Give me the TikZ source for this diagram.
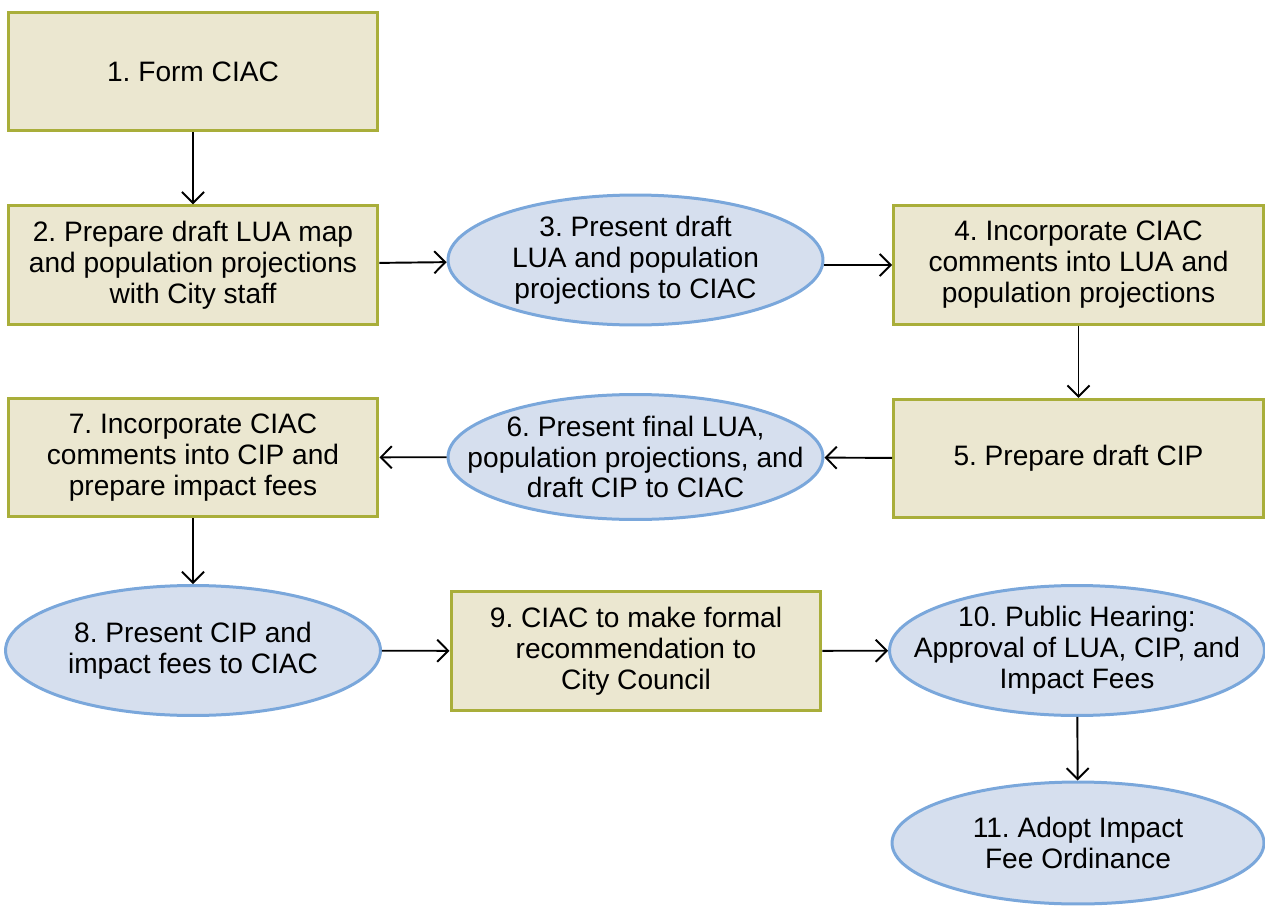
\documentclass[tikz,border=0pt]{standalone}
\usepackage{fontspec}
\setmainfont{Liberation Sans}
\usetikzlibrary{shapes.geometric,arrows.meta}
\definecolor{boxfill}{HTML}{EBE7D0}
\definecolor{boxline}{HTML}{A9AE3A}
\definecolor{ovalfill}{HTML}{D6DFEE}
\definecolor{ovalline}{HTML}{7AA7DB}
\frenchspacing
\begin{document}
\begin{tikzpicture}[x=0.02cm,y=-0.02cm,
  stepbox/.style={draw=boxline,fill=boxfill,line width=0.06cm,minimum width=7.4cm,minimum height=2.37cm,align=center,font=\fontsize{16}{17.6}\selectfont},
  meeting/.style={ellipse,draw=ovalline,fill=ovalfill,line width=0.06cm,minimum width=7.5cm,minimum height=2.6cm,inner xsep=-3cm,inner ysep=-1cm,align=center,font=\fontsize{16}{17.6}\selectfont},
  flow/.style={-{Straight Barb[length=2.2mm,width=4.4mm]},line width=1.1pt}]
  \useasboundingbox (0,0) rectangle (1265,906);

  \node [stepbox] (s1) at (193,71.5) {1. Form CIAC};
  \node [stepbox] (s2) at (193,265) {2. Prepare draft LUA map\\and population projections\\with City staff};
  \node [meeting] (s3) at (635.5,260) {3. Present draft\\LUA and population\\projections to CIAC};
  \node [stepbox] (s4) at (1078.5,265) {4. Incorporate CIAC\\comments into LUA and\\population projections};

  \node [stepbox] (s5) at (1078.5,458.5) {5. Prepare draft CIP};
  \node [meeting,minimum height=2.5cm] (s6) at (635.5,457) {6. Present final LUA,\\population projections, and\\draft CIP to CIAC};
  \node [stepbox] (s7) at (193,457.5) {7. Incorporate CIAC\\comments into CIP and\\prepare impact fees};

  \node [meeting] (s8) at (193,650.5) {8. Present CIP and\\impact fees to CIAC};
  \node [stepbox] (s9) at (636,651) {9. CIAC to make formal\\recommendation to\\City Council};
  \node [meeting] (s10) at (1077,650.5) {10. Public Hearing:\\Approval of LUA, CIP, and\\Impact Fees};
  \node [meeting,minimum width=7.44cm,minimum height=2.44cm] (s11) at (1078,843) {11. Adopt Impact\\Fee Ordinance};

  \draw [flow] (s1) -- (s2);
  \draw [flow] (s2) -- (s3);
  \draw [flow] (s3.east |- s2) -- (s4);
  \draw [flow] (s4) -- (s5);
  \draw [flow] (s5) -- (s6);
  \draw [flow] (s6) -- (s7);
  \draw [flow] (s7) -- (s8);
  \draw [flow] (s8) -- (s9);
  \draw [flow] (s9) -- (s10);
  \draw [flow] (s10) -- (s11);
\end{tikzpicture}
\end{document}
